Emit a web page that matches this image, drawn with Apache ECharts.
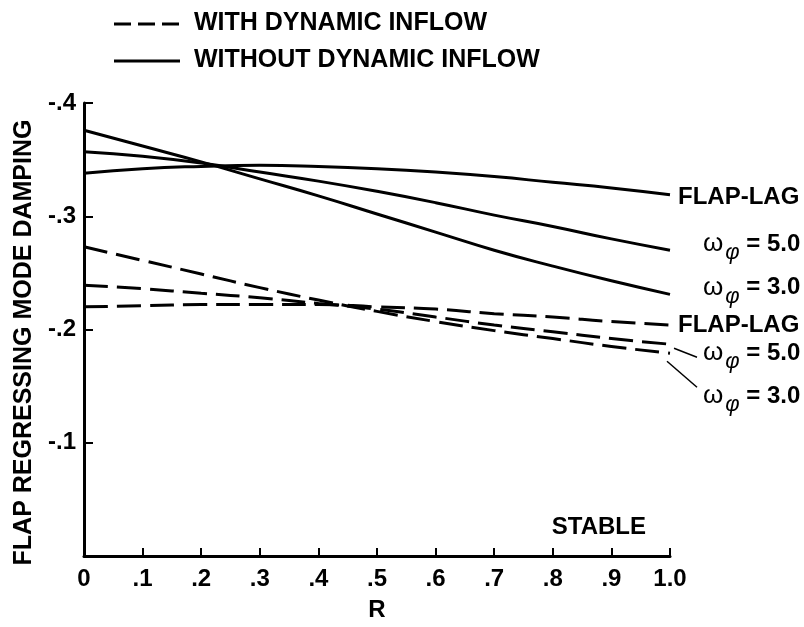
<!DOCTYPE html>
<html>
<head>
<meta charset="utf-8">
<script src="https://cdn.jsdelivr.net/npm/echarts@6/dist/echarts.min.js"></script>
<style>
html,body{margin:0;padding:0;background:#fff;}
#chart{width:804px;height:627px;}
</style>
</head>
<body>
<div id="chart"></div>
<script>
// ---- data ----
const R = [0, 0.1, 0.2, 0.3, 0.4, 0.5, 0.6, 0.7, 0.8, 0.9, 1.0];
const xTickLabels = ['0', '.1', '.2', '.3', '.4', '.5', '.6', '.7', '.8', '.9', '1.0'];
const yTickLabels = ['', '-.1', '-.2', '-.3', '-.4'];   // for 0, -0.1, ... -0.4

// without dynamic inflow (solid)
const noInflowFlapLag = [-0.338, -0.342, -0.344, -0.345, -0.344, -0.342, -0.339, -0.335, -0.330, -0.325, -0.319];
const noInflowW5 = [-0.357, -0.353, -0.347, -0.339, -0.331, -0.322, -0.312, -0.301, -0.291, -0.280, -0.270];
const noInflowW3 = [-0.376, -0.362, -0.348, -0.333, -0.318, -0.302, -0.286, -0.270, -0.256, -0.243, -0.231];
// with dynamic inflow (dashed)
const inflowFlapLag = [-0.220, -0.221, -0.222, -0.222, -0.222, -0.220, -0.218, -0.214, -0.211, -0.207, -0.204];
const inflowW5 = [-0.239, -0.236, -0.232, -0.228, -0.223, -0.218, -0.211, -0.204, -0.198, -0.192, -0.187];
const inflowW3 = [-0.273, -0.261, -0.249, -0.237, -0.226, -0.216, -0.207, -0.199, -0.192, -0.185, -0.179];

const WITH = 'WITH DYNAMIC INFLOW';
const WITHOUT = 'WITHOUT DYNAMIC INFLOW';
const DASH = [24, 9];

const FONT = '"Liberation Sans", Arial, sans-serif';
const pairs = ys => R.map((x, i) => [x, ys[i]]);

const richW = {
  w: {fontFamily: FONT, fontSize: 26, fontWeight: 'normal', color: '#000'},
  s: {fontFamily: FONT, fontSize: 22, fontStyle: 'italic', fontWeight: 'normal', color: '#000', padding: [18, 0, 0, 2]},
  t: {fontFamily: FONT, fontSize: 24, fontWeight: 'bold', color: '#000'}
};

function mkSeries(name, ys, dashed, label, offset) {
  return {
    type: 'line',
    name: name,
    data: pairs(ys),
    showSymbol: false,
    symbol: 'none',
    smooth: true,
    itemStyle: {color: '#000'},
    lineStyle: {color: '#000', width: 3, type: dashed ? DASH : 'solid'},
    endLabel: {
      show: true,
      distance: 0,
      offset: offset,
      formatter: () => label,
      fontFamily: FONT, fontSize: 24, fontWeight: 'bold', color: '#000',
      rich: richW
    },
    silent: true,
    animation: false
  };
}

const chart = echarts.init(document.getElementById('chart'), null, {renderer: 'canvas'});

const legendText = {fontFamily: FONT, fontSize: 25, fontWeight: 'bold', fill: '#000'};

const option = {
  backgroundColor: '#fff',
  animation: false,
  grid: {left: 84, right: 134, top: 103, bottom: 59, containLabel: false},
  xAxis: {
    type: 'value', min: 0, max: 1, interval: 0.1,
    name: 'R', nameLocation: 'middle', nameGap: 42,
    nameTextStyle: {fontFamily: FONT, fontSize: 24, fontWeight: 'bold', color: '#000'},
    axisLine: {show: true, lineStyle: {color: '#000', width: 3}},
    axisTick: {show: true, inside: true, length: 8, lineStyle: {color: '#000', width: 2}},
    axisLabel: {
      margin: 11, color: '#000', fontFamily: FONT, fontSize: 24, fontWeight: 'bold',
      formatter: v => xTickLabels[Math.round(v * 10)]
    },
    splitLine: {show: false}
  },
  yAxis: {
    type: 'value', min: -0.4, max: 0, interval: 0.1, inverse: true,
    name: 'FLAP REGRESSING MODE DAMPING', nameLocation: 'middle', nameGap: 45,
    nameTextStyle: {fontFamily: FONT, fontSize: 25, fontWeight: 'bold', color: '#000', padding: [0, 26, 0, 0]},
    axisLine: {show: true, lineStyle: {color: '#000', width: 3}},
    axisTick: {show: true, inside: true, length: 9, lineStyle: {color: '#000', width: 2}},
    axisLabel: {
      margin: 8, color: '#000', fontFamily: FONT, fontSize: 24, fontWeight: 'bold',
      formatter: v => yTickLabels[Math.round(-v * 10)]
    },
    splitLine: {show: false}
  },
  series: [
    mkSeries(WITHOUT, noInflowFlapLag, false, 'FLAP-LAG', [8, 3]),
    mkSeries(WITHOUT, noInflowW5, false, '{w|ω}{s|φ}{t| = 5.0}', [33, -6]),
    mkSeries(WITHOUT, noInflowW3, false, '{w|ω}{s|φ}{t| = 3.0}', [33, -7]),
    mkSeries(WITH, inflowFlapLag, true, 'FLAP-LAG', [8, 0]),
    mkSeries(WITH, inflowW5, true, '{w|ω}{s|φ}{t| = 5.0}', [33, 9]),
    mkSeries(WITH, inflowW3, true, '{w|ω}{s|φ}{t| = 3.0}', [33, 43])
  ]
};
chart.setOption(option);

// leader lines from the dashed ω curves to their labels
const p5 = chart.convertToPixel({gridIndex: 0}, [R[R.length - 1], inflowW5[inflowW5.length - 1]]);
const p3 = chart.convertToPixel({gridIndex: 0}, [R[R.length - 1], inflowW3[inflowW3.length - 1]]);
chart.setOption({
  graphic: [
    // legend
    {type: 'line', shape: {x1: 114, y1: 24, x2: 180, y2: 24}, style: {stroke: '#000', lineWidth: 3, lineDash: [17, 7]}},
    {type: 'text', left: 194, top: 11, style: Object.assign({text: WITH}, legendText)},
    {type: 'line', shape: {x1: 114, y1: 61, x2: 180, y2: 61}, style: {stroke: '#000', lineWidth: 3}},
    {type: 'text', left: 194, top: 48, style: Object.assign({text: WITHOUT}, legendText)},
    // region note
    {type: 'text', right: 158, top: 515,
      style: {text: 'STABLE', fontFamily: FONT, fontSize: 24, fontWeight: 'bold', fill: '#000'}},
    // leader lines
    {type: 'line', shape: {x1: p5[0] + 4, y1: p5[1] + 4, x2: p5[0] + 27, y2: p5[1] + 13}, style: {stroke: '#000', lineWidth: 1.5}},
    {type: 'line', shape: {x1: p3[0] - 3, y1: p3[1] + 8, x2: p3[0] + 27, y2: p3[1] + 34}, style: {stroke: '#000', lineWidth: 1.5}}
  ]
});
</script>
</body>
</html>
